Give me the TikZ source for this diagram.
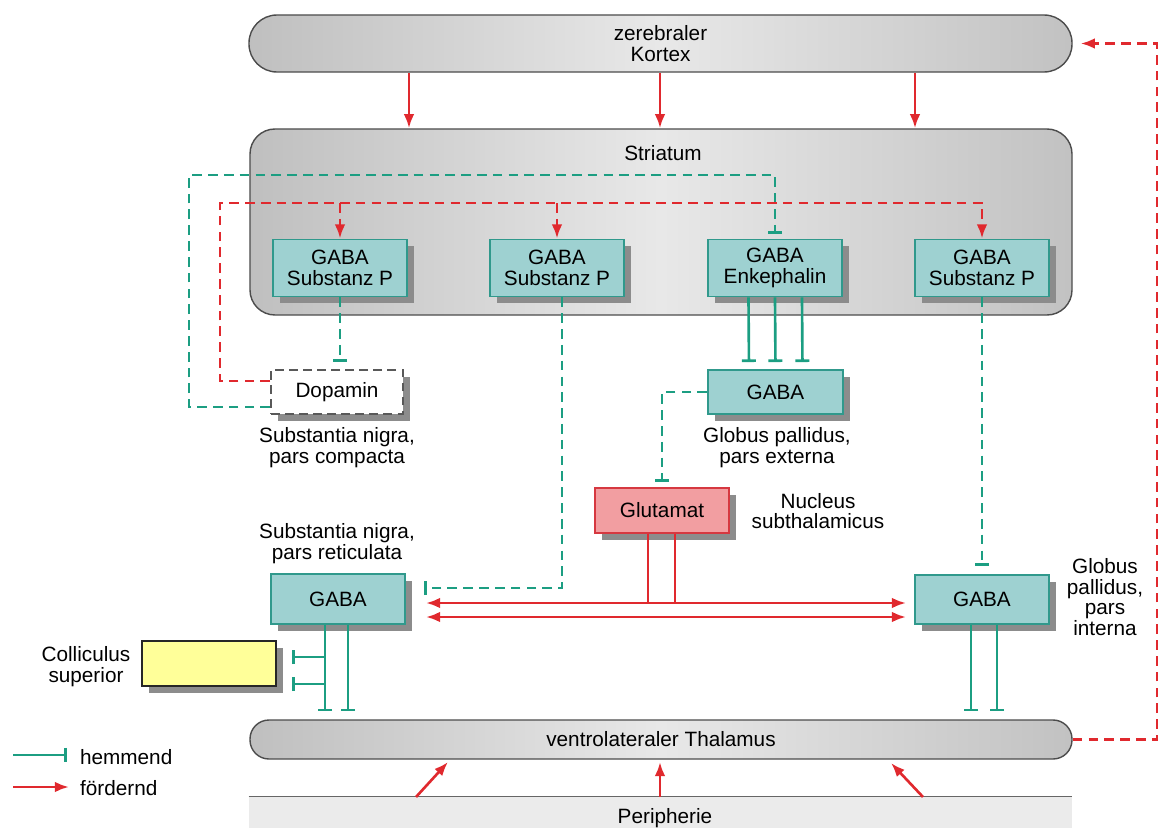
\documentclass[tikz,border=0pt]{standalone}
\usepackage{fontspec}
\setmainfont{Liberation Sans}
\usetikzlibrary{arrows.meta,calc,shadows}
\definecolor{HemmClr}{rgb}{0.11,0.62,0.51}
\definecolor{FoerdClr}{rgb}{0.88,0.16,0.18}
\definecolor{BoxClr}{rgb}{0.62,0.82,0.82}
\definecolor{BoxLine}{rgb}{0.19,0.6,0.55}
\definecolor{GlutClr}{rgb}{0.95,0.62,0.63}
\definecolor{GlutLine}{rgb}{0.84,0.22,0.25}
\definecolor{CollClr}{rgb}{1,1,0.6}

\tikzset{
  band/.style={draw=black!70,line width=0.8pt,left color=black!25,right color=black!24,middle color=black!9},
  gaba/.style={draw=BoxLine,fill=BoxClr,line width=1.1pt,minimum width=2.68cm,
    drop shadow={shadow xshift=1.3mm,shadow yshift=-1.3mm,fill=black!45,opacity=1}},
  lbl/.style={inner sep=1pt},
  hemm/.style={draw=HemmClr,line width=1.5pt,-{Bar[width=8pt]}},
  hemmd/.style={hemm,dash pattern=on 5.5pt off 3.5pt},
  foerdl/.style={draw=FoerdClr,line width=1.5pt},
  foerd/.style={foerdl,-{Latex[length=8pt,width=6pt]}},
  foerdd/.style={foerd,dash pattern=on 5.5pt off 3.5pt},
  foerdz/.style={foerdl,{Latex[length=8pt,width=6pt]}-{Latex[length=8pt,width=6pt]}}
}

\begin{document}
\begin{tikzpicture}[x=0.2mm,y=-0.2mm,font=\fontsize{11.8}{11.8}\selectfont,every node/.style={align=center}]
\useasboundingbox (0,0) rectangle (1160,828);

\node[band,minimum width=16.46cm,minimum height=1.14cm,rounded corners=5.6mm] (kortex) at (660.5,43.5) {zerebraler\\Kortex};
\node[band,minimum width=16.44cm,minimum height=3.72cm,rounded corners=5mm] (striatum) at (661,222) {};
\node[lbl] (striatumlbl) at (663,153) {Striatum};

\node[gaba,minimum height=1.14cm] (sp1) at (340,268) {GABA\\Substanz P};
\node[gaba,minimum height=1.14cm] (sp2) at (557,268) {GABA\\Substanz P};
\node[gaba,minimum height=1.14cm] (enk) at (775,268) {GABA\\Enkephalin};
\node[gaba,minimum height=1.14cm] (sp3) at (982,268) {GABA\\Substanz P};

\node[gaba,draw=black!65,fill=white,dash pattern=on 5pt off 3pt,minimum width=2.64cm,minimum height=0.88cm] (dopa) at (337,392) {Dopamin};
\node[gaba,minimum width=2.7cm,minimum height=0.88cm] (gpe) at (775.5,392) {GABA};
\node[gaba,draw=GlutLine,fill=GlutClr,minimum width=2.68cm,minimum height=0.9cm] (glut) at (662,510.5) {Glutamat};
\node[gaba,minimum height=1cm] (snr) at (338,599) {GABA};
\node[gaba,minimum height=0.98cm] (gpi) at (982,599.5) {GABA};
\node[gaba,draw=black!85,fill=CollClr,minimum height=0.9cm] (coll) at (209,663.5) {};

\node[band,minimum width=16.44cm,minimum height=0.78cm,rounded corners=3.8mm] (thal) at (661,739.5) {ventrolateraler Thalamus};
\node[fill=black!8,minimum width=16.46cm,minimum height=0.62cm,inner sep=0pt] (periph) at (660.5,812.5) {};
\draw[black!60,line width=0.8pt] (periph.north west) -- (periph.north east);
\node[lbl] (periphlbl) at (665,818) {Peripherie};

\node[lbl] (snclbl) at (337,448) {Substantia nigra,\\pars compacta};
\node[lbl] (gpelbl) at (777,448) {Globus pallidus,\\pars externa};
\node[lbl] (stnlbl) at (818,511) {Nucleus\\subthalamicus};
\node[lbl] (snrlbl) at (337,544) {Substantia nigra,\\pars reticulata};
\node[lbl] (gpilbl) at (1105,597) {Globus\\pallidus,\\pars\\interna};
\node[lbl] (colllbl) at (86,667) {Colliculus\\superior};

\coordinate (k1) at (409,0);
\coordinate (k2) at (660,0);
\coordinate (k3) at (915,0);
\foreach \k in {k1,k2,k3}
  \draw[foerd] (kortex.south -| \k) -- (striatum.north -| \k);

\coordinate (tlc) at (189,175);
\coordinate (rlc) at (220,203);
\draw[hemmd,shorten >=1mm] ([yshift=-3mm]dopa.west) -| (tlc) -| (enk.north);
\draw[foerdd] ([yshift=2.2mm]dopa.west) -| (rlc) -| (sp3.north);
\draw[foerdd] (sp1 |- rlc) -- (sp1.north);
\draw[foerdd] (sp2 |- rlc) -- (sp2.north);

\draw[hemmd,shorten >=1.4mm] (sp1.south) -- (sp1.south |- dopa.north);
\draw[hemmd,shorten >=3.6mm] ([xshift=1mm]sp2.south) |- ([yshift=2.2mm]snr.east);
\foreach \dx in {-5.3mm,0mm,5.4mm}
  \draw[hemm,shorten >=1.4mm] ([xshift=\dx]enk.south) -- ([xshift=\dx]gpe.north);
\draw[hemmd,shorten >=1mm] (gpe.west) -| (glut.north);
\draw[hemmd,shorten >=1.6mm] (sp3.south) -- (gpi.north);

\coordinate (glA) at ([xshift=-2.8mm]glut.south);
\coordinate (glB) at ([xshift=2.6mm]glut.south);
\coordinate (eo) at ([yshift=-0.8mm]snr.east);
\coordinate (eu) at ([yshift=-3.6mm]snr.east);
\draw[foerdl] (glA) -- (glA |- eo);
\draw[foerdl] (glB) -- (glB |- eo);
\draw[foerdz,shorten <=4mm,shorten >=1.6mm] (eo) -- (eo -| gpi.west);
\draw[foerdz,shorten <=4mm,shorten >=1.6mm] (eu) -- (eu -| gpi.west);

\coordinate (snA) at ([xshift=-2.6mm]snr.south);
\coordinate (snB) at ([xshift=2mm]snr.south);
\coordinate (co1) at ([yshift=1.3mm]coll.east);
\coordinate (co2) at ([yshift=-4.1mm]coll.east);
\draw[hemm,shorten >=1.6mm] (snA) -- (snA |- thal.north);
\draw[hemm,shorten >=1.6mm] (snB) -- (snB |- thal.north);
\draw[hemm,shorten >=3mm] (snA |- co1) -- (co1);
\draw[hemm,shorten >=3mm] (snA |- co2) -- (co2);

\coordinate (giA) at ([xshift=-2.2mm]gpi.south);
\coordinate (giB) at ([xshift=3mm]gpi.south);
\draw[hemm,shorten >=1.6mm] (giA) -- (giA |- thal.north);
\draw[hemm,shorten >=1.6mm] (giB) -- (giB |- thal.north);

\coordinate (pa) at (416,797);
\coordinate (ta) at (448,762);
\coordinate (pb) at (660,797);
\coordinate (tb) at (660,762);
\coordinate (pc) at (923,797);
\coordinate (tc) at (891,763);
\draw[foerd] (pa) -- (ta);
\draw[foerd] (pb) -- (tb);
\draw[foerd] (pc) -- (tc);

\coordinate (fb) at (1157,0);
\draw[foerdd,shorten >=1.6mm] (thal.east) -| (fb |- kortex.east) -- (kortex.east);

\node[lbl,anchor=west] (hemlbl) at (78,757) {hemmend};
\node[lbl,anchor=west] (foelbl) at (78,788) {fördernd};
\coordinate (lg1) at (13,755);
\coordinate (lg2) at (13,787);
\draw[hemm,shorten >=2.2mm] (lg1) -- (lg1 -| hemlbl.west);
\draw[foerd,shorten >=1.8mm] (lg2) -- (lg2 -| foelbl.west);

\end{tikzpicture}
\end{document}
